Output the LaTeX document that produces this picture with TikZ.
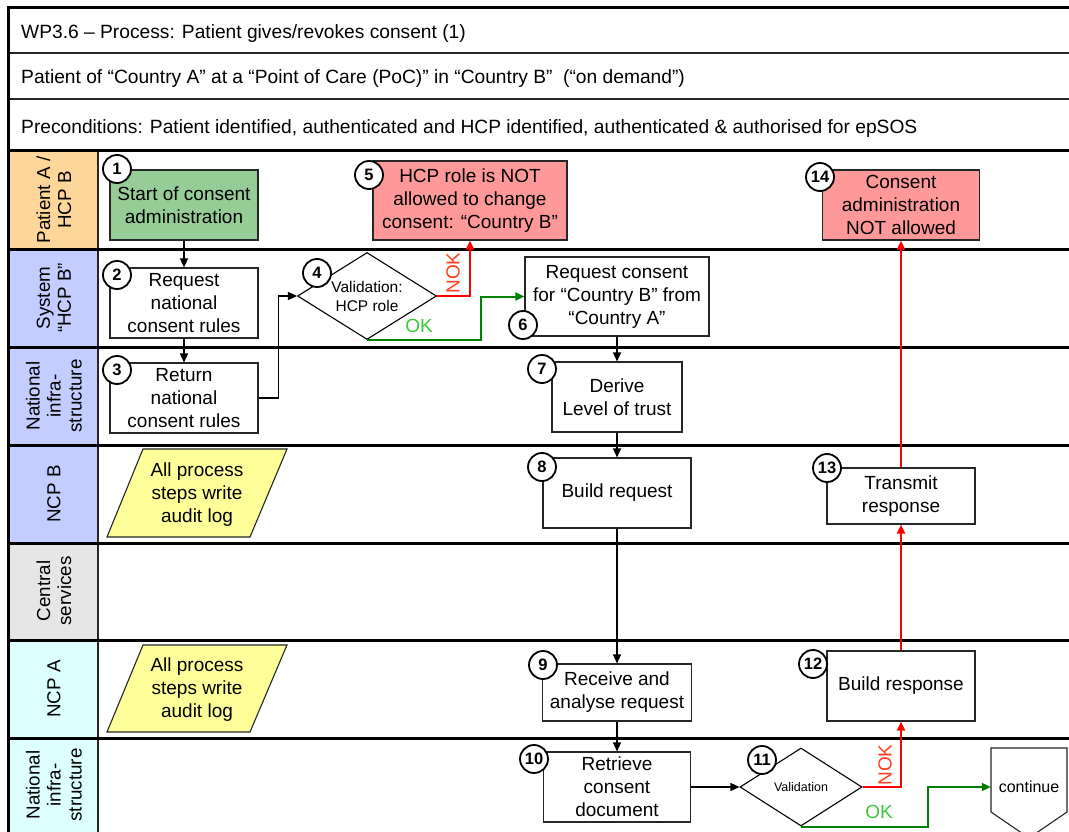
\documentclass[tikz,border=0pt]{standalone}
\usepackage{fontspec}
\setmainfont{Liberation Sans}
\usetikzlibrary{arrows.meta,shapes.geometric,calc}

\definecolor{lanepeach}{RGB}{255,214,153}
\definecolor{laneblue}{RGB}{195,205,255}
\definecolor{lanegrey}{RGB}{230,230,230}
\definecolor{lanecyan}{RGB}{221,255,255}
\definecolor{startgreen}{RGB}{150,204,150}
\definecolor{stopred}{RGB}{255,153,153}
\definecolor{logyellow}{RGB}{255,255,153}
\definecolor{okline}{RGB}{0,128,0}
\definecolor{oktext}{RGB}{60,200,60}
\definecolor{noktext}{RGB}{255,60,30}

\begin{document}
\begin{tikzpicture}[x=1pt,y=-1pt,
  thickrule/.style={line width=3pt,black},
  thinrule/.style={line width=1.4pt,black!85},
  hdr/.style={anchor=west,inner sep=0pt,font=\fontsize{19.2}{22}\selectfont},
  lanelabel/.style={rotate=90,align=center,inner sep=0pt,font=\fontsize{18.8}{21}\selectfont},
  txt/.style={align=center,inner sep=0pt,font=\fontsize{19}{23}\selectfont},
  stepbox/.style={txt,draw=black!85,line width=1.1pt,fill=white},
  startbox/.style={stepbox,fill=startgreen},
  stopbox/.style={stepbox,fill=stopred},
  decision/.style={diamond,draw=black,line width=1.1pt,fill=white,align=center,inner sep=0pt},
  num/.style={circle,draw=black,line width=1.8pt,fill=white,inner sep=0pt,minimum size=28pt,font=\fontsize{16.5}{16.5}\selectfont\bfseries},
  flow/.style={line width=1.5pt,black,-{Triangle[length=9pt,width=8pt]}},
  nokflow/.style={line width=2pt,red,-{Triangle[length=9pt,width=8pt]}},
  okflow/.style={line width=2pt,okline,-{Triangle[length=9pt,width=8pt]}},
  branchlabel/.style={inner sep=0pt,font=\fontsize{19}{19}\selectfont},
  logshape/.style={fill=logyellow,draw=black!85,line width=1.1pt}
]
\useasboundingbox (0,0) rectangle (1069,832);
\clip (0,0) rectangle (1069,832);
\fill[white] (0,0) rectangle (1069,832);

% swimlane label cells
\fill[lanepeach] (8,151) rectangle (98,249);
\fill[laneblue]  (8,249) rectangle (98,347);
\fill[laneblue]  (8,347) rectangle (98,445);
\fill[laneblue]  (8,445) rectangle (98,543);
\fill[lanegrey]  (8,543) rectangle (98,640);
\fill[lanecyan]  (8,640) rectangle (98,738);
\fill[lanecyan]  (8,738) rectangle (98,840);

% header and lane rules
\draw[thinrule] (8,53) -- (1069,53);
\draw[thinrule] (8,99) -- (1069,99);
\draw[thinrule] (98,151) -- (98,840);
\foreach \yy in {8,151,249,347,445,543,640,738}
  \draw[thickrule] (6.5,\yy) -- (1069,\yy);
\draw[thickrule] (8,6.5) -- (8,840);

% header texts
\node[hdr] (title) at (21,33.5) {WP3.6 – Process: Patient gives/revokes consent (1)};
\node[hdr] (scenario) at (21,79) {Patient of “Country A” at a “Point of Care (PoC)” in “Country B”\ \ (“on demand”)};
\node[hdr] (precond) at (21,129) {Preconditions: Patient identified, authenticated and HCP identified, authenticated \& authorised for epSOS};

% lane labels
\node[lanelabel] (lPat) at (54,200) {Patient A /\\HCP B};
\node[lanelabel] (lSys) at (54,298) {System\\“HCP B”};
\node[lanelabel] (lNatB) at (54,396) {National\\infra-\\structure};
\node[lanelabel] (lNcpB) at (54,494) {NCP B};
\node[lanelabel] (lCen) at (54,591) {Central\\services};
\node[lanelabel] (lNcpA) at (54,689) {NCP A};
\node[lanelabel] (lNatA) at (54,785) {National\\infra-\\structure};

% audit log notes
\filldraw[logshape] (107,537) -- (143,449) -- (287,449) -- (250,537) -- cycle;
\node[txt] (logB) at (197,495) {All process\\steps write\\audit log};
\filldraw[logshape] (107,732) -- (143,645) -- (287,645) -- (250,732) -- cycle;
\node[txt] (logA) at (197,690) {All process\\steps write\\audit log};

% process steps
\node[startbox,minimum width=148pt,minimum height=70pt] (s1) at (184,205) {Start of consent\\administration};
\node[stepbox,minimum width=148pt,minimum height=70pt] (s2) at (184,303) {Request\\national\\consent rules};
\node[stepbox,minimum width=148pt,minimum height=70pt] (s3) at (184,398) {Return\\national\\consent rules};
\node[decision,shape aspect=1.6,minimum width=139pt,minimum height=87pt,font=\fontsize{15.5}{19}\selectfont] (s4) at (367,296) {Validation:\\HCP role};
\node[stopbox,minimum width=194pt,minimum height=79pt] (s5) at (470,200.5) {HCP role is NOT\\allowed to change\\consent: “Country B”};
\node[stepbox,minimum width=184pt,minimum height=79pt] (s6) at (617,296.5) {Request consent\\for “Country B” from\\“Country A”};
\node[stepbox,minimum width=130pt,minimum height=70pt] (s7) at (617,397) {Derive\\Level of trust};
\node[stepbox,minimum width=148pt,minimum height=70pt] (s8) at (617,493) {Build request};
\node[stepbox,minimum width=149pt,minimum height=57pt] (s9) at (617,692.5) {Receive and\\analyse request};
\node[stepbox,minimum width=147pt,minimum height=70pt] (s10) at (617,787) {Retrieve\\consent\\document};
\node[decision,shape aspect=1.56,minimum width=122pt,minimum height=78pt,font=\fontsize{12.5}{15}\selectfont] (s11) at (801,787) {Validation};
\node[stepbox,minimum width=148pt,minimum height=70pt] (s12) at (901,686) {Build response};
\node[stepbox,minimum width=148pt,minimum height=56pt] (s13) at (901,496) {Transmit\\response};
\node[stopbox,minimum width=157pt,minimum height=70pt] (s14) at (901,205) {Consent\\administration\\NOT allowed};

% off-page connector
\filldraw[fill=white,draw=black!85,line width=1.1pt] (991,748) -- (1067,748) -- (1067,812) -- (1029,838) -- (991,812) -- cycle;
\node[txt,minimum width=76pt,minimum height=78pt,font=\fontsize{16}{19}\selectfont] (cont) at (1029,787) {continue};

% flows
\draw[flow] (s1.south) -- (s2.north);
\draw[flow] (s2.south) -- (s3.north);
\draw[flow] (s3.east) -- ++(20,0) |- (s4.west);
\draw[nokflow] (s4.east) -| (s5.south);
\node[branchlabel,rotate=90,text=noktext] (nok4) at (453,273) {NOK};
\draw[okflow] (s4.south) -- ++(114,0) |- (s6.west);
\node[branchlabel,text=oktext] (ok4) at (419,326) {OK};
\draw[flow] (s6.south) -- (s7.north);
\draw[flow] (s7.south) -- (s8.north);
\draw[flow] (s8.south) -- (s9.north);
\draw[flow] (s9.south) -- (s10.north);
\draw[flow] (s10.east) -- (s11.west);
\draw[nokflow] (s11.east) -| (s12.south);
\node[branchlabel,rotate=90,text=noktext] (nok11) at (885,765) {NOK};
\draw[okflow] (s11.south) -- ++(127,0) |- (cont.west);
\node[branchlabel,text=oktext] (ok11) at (879,812) {OK};
\draw[nokflow] (s12.north) -- (s13.south);
\draw[nokflow] (s13.north) -- (s14.south);

% step numbers
\node[num] (n1) at (117,169) {1};
\node[num] (n2) at (117,275) {2};
\node[num] (n3) at (117,370) {3};
\node[num] (n4) at (317,273) {4};
\node[num] (n5) at (369,175) {5};
\node[num] (n6) at (523,325) {6};
\node[num] (n7) at (542,369) {7};
\node[num] (n8) at (542,467) {8};
\node[num] (n9) at (543,665) {9};
\node[num] (n10) at (534,759) {10};
\node[num] (n11) at (762,760) {11};
\node[num] (n12) at (813,664) {12};
\node[num] (n13) at (827,468) {13};
\node[num] (n14) at (820,177) {14};
\end{tikzpicture}
\end{document}
